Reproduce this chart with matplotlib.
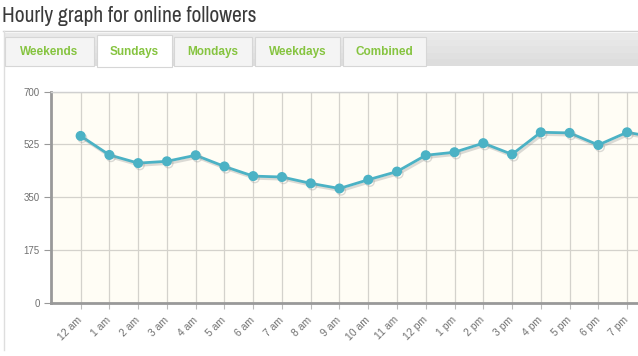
"""Hourly online-followers chart (Sundays tab), redrawn with matplotlib."""
import matplotlib
matplotlib.use("Agg")
import matplotlib.pyplot as plt  # noqa: E402
import matplotlib.patheffects as pe  # noqa: E402
import matplotlib.transforms as mtransforms  # noqa: E402
from matplotlib.patches import Rectangle  # noqa: E402
from matplotlib import font_manager  # noqa: E402

hours = ["12 am", "1 am", "2 am", "3 am", "4 am", "5 am", "6 am", "7 am",
         "8 am", "9 am", "10 am", "11 am", "12 pm", "1 pm", "2 pm", "3 pm",
         "4 pm", "5 pm", "6 pm", "7 pm", "8 pm"]
followers = [553, 490, 463, 469, 489, 452, 420, 417, 396, 379, 408, 435,
             489, 499, 529, 492, 565, 563, 523, 565, 548]
y_ticks = [0, 175, 350, 525, 700]
tabs = ["Weekends", "Sundays", "Mondays", "Weekdays", "Combined"]
active_tab = "Sundays"

W, H = 638, 356
fonts = font_manager.fontManager.ttflist
names = {f.name for f in fonts}
narrow = sorted({f.name for f in fonts
                 if "Condensed" in f.name or "Narrow" in f.name
                 or str(f.stretch) in ("condensed", "semi-condensed", "extra-condensed")})
sans = "Liberation Sans" if "Liberation Sans" in names else "DejaVu Sans"


def fx(x):
    return x / W


def fy(y):
    return 1 - y / H


fig = plt.figure(figsize=(W / 100, H / 100), dpi=100)
fig.patch.set_facecolor("white")

# title: condensed face when there is one, otherwise shrink to the same width
title = fig.text(fx(2), fy(16), "Hourly graph for online followers",
                 family=narrow[:1] + [sans], fontsize=15.5, color="#3a3a3a",
                 va="center", ha="left")
fig.canvas.draw()
tw = title.get_window_extent().width
if tw > 260:
    title.set_fontsize(max(12.5, 15.5 * 250 / tw))

# container frame + tab bar
fig.add_artist(plt.Line2D([fx(3), fx(638)], [fy(31), fy(31)], color="#d2d2d2", lw=1))
fig.add_artist(plt.Line2D([fx(3.5), fx(3.5)], [fy(31), fy(350)], color="#dedede", lw=1))
for i, c in enumerate(["#e9e9e9", "#e6e6e6", "#e3e3e3", "#e0e0e0", "#dddddd"]):
    y0 = 33 + i * 6.6
    fig.add_artist(Rectangle((fx(4), fy(y0 + 6.6)), fx(634), 6.6 / H,
                             facecolor=c, edgecolor="none"))
tab_x = [(5, 94), (97, 172), (174, 252), (255, 340), (343, 426)]
for name, (x0, x1) in zip(tabs, tab_x):
    act = name == active_tab
    top, bot = (35, 67) if act else (37, 66)
    fig.add_artist(Rectangle((fx(x0), fy(bot)), fx(x1 - x0), (bot - top) / H,
                             facecolor="white" if act else "#f4f4f4",
                             edgecolor="#d6d6d6", lw=0.8))
    fig.text(fx((x0 + x1) / 2), fy(52), name, family=sans, weight="bold",
             fontsize=8.5, color="#86c440", ha="center", va="center")

# plot area: left edge 51px, 0 at 303px, 700 at 91.5px; right side cut by the figure
x_left = -1.03
x_right = 19.38
ax = fig.add_axes([fx(51), fy(303), fx(638 - 51), (303 - 91.5) / H])
ax.set_facecolor("#fffdf5")
ax.set_xlim(x_left, x_right)
ax.set_ylim(0, 700)
ax.set_yticks(y_ticks)
ax.set_yticklabels([str(v) for v in y_ticks], family=sans, fontsize=7, color="#707070")
shown = hours[:20]  # 8 pm sits past the cropped right edge
ax.set_xticks(range(len(shown)))
ax.set_xticklabels(shown, family=sans, fontsize=7.5, color="#707070",
                   rotation=45, ha="right", va="center", rotation_mode="anchor")
shift = mtransforms.ScaledTranslation(4 / 100, 0, fig.dpi_scale_trans)
for lab in ax.get_xticklabels():
    lab.set_transform(lab.get_transform() + shift)
ax.tick_params(axis="y", direction="out", length=5, width=0.8, color="#999999", pad=3)
ax.tick_params(axis="x", direction="out", length=4, width=0.8, color="#bbbbbb", pad=7)
ax.grid(True, color="#d4d2cc", lw=0.9)
ax.set_axisbelow(True)
for side in ("left", "bottom"):
    ax.spines[side].set_color("#999999")
    ax.spines[side].set_linewidth(2)
ax.spines["top"].set_color("#d0d0d0")
ax.spines["top"].set_linewidth(1)
ax.spines["right"].set_visible(False)

ax.plot(range(len(hours)), followers, color="#4bb2c5", lw=2, marker="o",
        ms=6.2, mec="#4bb2c5", mfc="#4bb2c5", clip_on=True,
        path_effects=[pe.SimpleLineShadow(offset=(1.2, -1.6), shadow_color="#999999", alpha=0.35),
                      pe.Normal()])

fig.savefig("out.png", dpi=100)
